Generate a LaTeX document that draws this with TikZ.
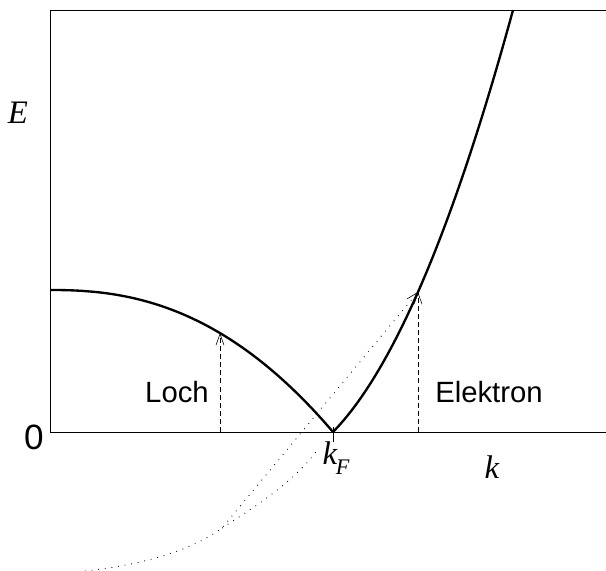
\documentclass[tikz,border=0pt]{standalone}
\usepackage{fontspec}
\setmainfont{Liberation Sans}
\newfontfamily\timesf{Liberation Serif}
\usetikzlibrary{arrows.meta}
\begin{document}
\begin{tikzpicture}[x=0.03cm,y=-0.03cm,
  axis/.style={line width=0.6pt},
  curve/.style={line width=2pt},
  dashline/.style={line width=0.7pt, dash pattern=on 4.3pt off 2.6pt, -{Straight Barb[length=3.4mm,width=2.4mm,line width=0.5pt]}},
  dotline/.style={line width=0.7pt, dash pattern=on 0.7pt off 5pt},
  dotarrow/.style={dotline, -{Straight Barb[length=3.4mm,width=2.4mm,line width=0.5pt]}},
  sanslab/.style={inner sep=0pt, font=\fontsize{25}{25}\selectfont},
  serlab/.style={inner sep=0pt, font=\timesf\itshape\fontsize{28}{28}\selectfont}]
\useasboundingbox (0,0) rectangle (606,571);
% axes and frame
\coordinate (O) at (50,432);
\coordinate (xend) at (606,432);
\coordinate (ytop) at (50,10);
\coordinate (tr) at (606,10);
\coordinate (kF) at (333,432);
\coordinate (kFlow) at (333,442);
\coordinate (kFhigh) at (333,427);
\draw[axis] (ytop) -- (O) -- (xend);
\draw[axis] (ytop) -- (tr);
\draw[axis] (kFhigh) -- (kFlow);
% dispersion curves
\draw[curve] plot[domain=0.0001:1, samples=80] ({50+283*\x}, {432-142*(1-(\x)^2.34)});
\draw[curve] plot[domain=0:180, samples=80] ({333+\x}, {432-1.023*\x-0.00734*\x*\x});
% points
\coordinate (hbase) at (220,432);
\coordinate (htop) at (220,333);
\coordinate (ebase) at (418,432);
\coordinate (etop) at (418,292);
\draw[dashline] (hbase) -- (htop);
\draw[dashline] (ebase) -- (etop);
% dotted curves
\coordinate (s) at (85,571);
\coordinate (f) at (222,528);
\coordinate (g) at (318,449);
\draw[dotarrow] (s) .. controls (150,564) and (195,548) .. (f) -- (etop);
\draw[dotline] (f) .. controls (250,510) and (295,482) .. (g);
% labels
\node[serlab] (E) at (18,113) {E};
\node[inner sep=0pt, font=\fontsize{30}{30}\selectfont] (zero) at (34,437) {0};
\node[sanslab] (loch) at (177,392) {Loch};
\node[sanslab] (elek) at (489,392) {Elektron};
\node[inner sep=0pt, font=\timesf\itshape\fontsize{28}{28}\selectfont] (kFlab) at (336,458) {k\kern-1pt\raisebox{-0.3em}{\fontsize{19}{19}\selectfont F}};
\node[serlab] (k) at (492,467) {k};
\end{tikzpicture}
\end{document}
